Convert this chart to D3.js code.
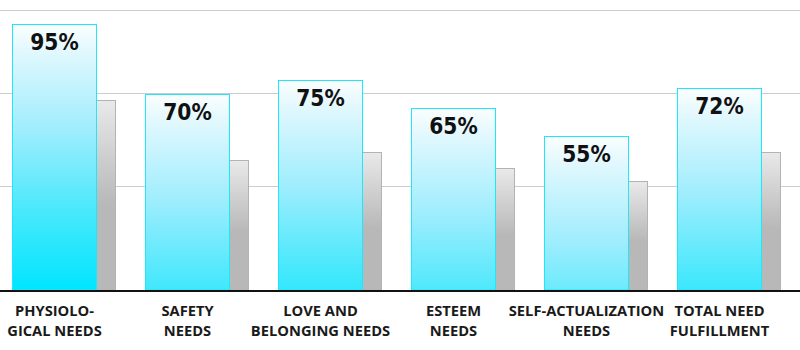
<!DOCTYPE html>
<html>
<head>
<meta charset="utf-8">
<script src="https://cdn.jsdelivr.net/npm/d3@7"></script>
<style>
  html, body { margin: 0; padding: 0; background: #ffffff; }
  svg { display: block; }
</style>
</head>
<body>
<svg id="chart" width="800" height="350"></svg>
<script>
// Needs categories (two-line labels) and the two series
const categories = ["Physiological", "Safety", "Love", "Esteem", "Self-actualization", "Total"];
const categoryLines = [
  ["PHYSIOLO-", "GICAL NEEDS"],
  ["SAFETY", "NEEDS"],
  ["LOVE AND", "BELONGING NEEDS"],
  ["ESTEEM", "NEEDS"],
  ["SELF-ACTUALIZATION", "NEEDS"],
  ["TOTAL NEED", "FULFILLMENT"]
];
const fulfilment = [95, 70, 75, 65, 55, 72];
const comparison = [68, 46.4, 49.2, 43.5, 39, 49.2];
const gridValues = [37.2, 70.3, 100];

const W = 800, H = 350;
const baseY = 290;

const svg = d3.select("#chart");

const x = d3.scaleBand().domain(categories).range([0, 798]).paddingInner(0).paddingOuter(0);
const y = d3.scaleLinear().domain([0, 100]).range([baseY, 10]);

const blueOffset = 12.5;
const blueWidth = 84;
const grayWidth = 19;

const defs = svg.append("defs");

// grey bar gradient (relative to each bar)
const gg = defs.append("linearGradient")
  .attr("id", "grayGrad").attr("x1", 0).attr("y1", 0).attr("x2", 0).attr("y2", 1);
gg.append("stop").attr("offset", 0).attr("stop-color", "#e9e9e9");
gg.append("stop").attr("offset", 0.55).attr("stop-color", "#b8b8b8");
gg.append("stop").attr("offset", 1).attr("stop-color", "#b8b8b8");

// blue bar gradients: fixed length measured from each bar's top
const blueLen = y(0) - y(95);
fulfilment.forEach((v, i) => {
  const top = y(v);
  const g = defs.append("linearGradient")
    .attr("id", "blueGrad" + i)
    .attr("gradientUnits", "userSpaceOnUse")
    .attr("x1", 0).attr("x2", 0)
    .attr("y1", top).attr("y2", top + blueLen);
  g.append("stop").attr("offset", 0).attr("stop-color", "#fbfeff");
  g.append("stop").attr("offset", 0.1).attr("stop-color", "#e2f8fe");
  g.append("stop").attr("offset", 0.4).attr("stop-color", "#9eedfd");
  g.append("stop").attr("offset", 0.7).attr("stop-color", "#4ae8fc");
  g.append("stop").attr("offset", 1).attr("stop-color", "#00e5ff");
});

// gridlines
svg.append("g").selectAll("line").data(gridValues).join("line")
  .attr("x1", 0).attr("x2", W)
  .attr("y1", d => Math.round(y(d)) + 0.5)
  .attr("y2", d => Math.round(y(d)) + 0.5)
  .attr("stroke", "#cccccc").attr("stroke-width", 1);

// comparison (grey) bars
svg.append("g").selectAll("rect").data(comparison).join("rect")
  .attr("x", (d, i) => x(categories[i]) + blueOffset + blueWidth)
  .attr("y", d => Math.round(y(d)) + 0.5)
  .attr("width", grayWidth)
  .attr("height", d => baseY - Math.round(y(d)) - 0.5)
  .attr("fill", "url(#grayGrad)")
  .attr("stroke", "#b3b3b3").attr("stroke-width", 1);

// fulfilment (blue) bars
svg.append("g").selectAll("rect").data(fulfilment).join("rect")
  .attr("x", (d, i) => x(categories[i]) + blueOffset)
  .attr("y", d => Math.round(y(d)) + 0.5)
  .attr("width", blueWidth)
  .attr("height", d => baseY - Math.round(y(d)) - 0.5)
  .attr("fill", (d, i) => "url(#blueGrad" + i + ")")
  .attr("stroke", "#1ee6fb").attr("stroke-width", 1);

// value labels
svg.append("g").selectAll("text").data(fulfilment).join("text")
  .attr("x", (d, i) => x(categories[i]) + blueOffset + blueWidth / 2)
  .attr("y", d => y(d) + 26)
  .attr("text-anchor", "middle")
  .attr("font-family", "'DejaVu Sans Condensed', 'DejaVu Sans', sans-serif")
  .attr("font-stretch", "condensed")
  .attr("font-weight", 700)
  .attr("font-size", 22.5)
  .attr("fill", "#111111")
  .text(d => d + "%");

// baseline
svg.append("line")
  .attr("x1", 0).attr("x2", W)
  .attr("y1", baseY + 1).attr("y2", baseY + 1)
  .attr("stroke", "#111111").attr("stroke-width", 2);

// category labels
const lab = svg.append("g").selectAll("text").data(categoryLines).join("text")
  .attr("text-anchor", "middle")
  .attr("font-family", "'Open Sans', 'Noto Sans', sans-serif")
  .attr("font-weight", 700)
  .attr("font-size", 14.7)
  .attr("fill", "#1a1a1a");
lab.each(function(lines, i) {
  const cx = x(categories[i]) + blueOffset + blueWidth / 2;
  d3.select(this).selectAll("tspan").data(lines).join("tspan")
    .attr("x", cx)
    .attr("y", (l, j) => 316 + j * 20)
    .text(l => l);
});
</script>
</body>
</html>
